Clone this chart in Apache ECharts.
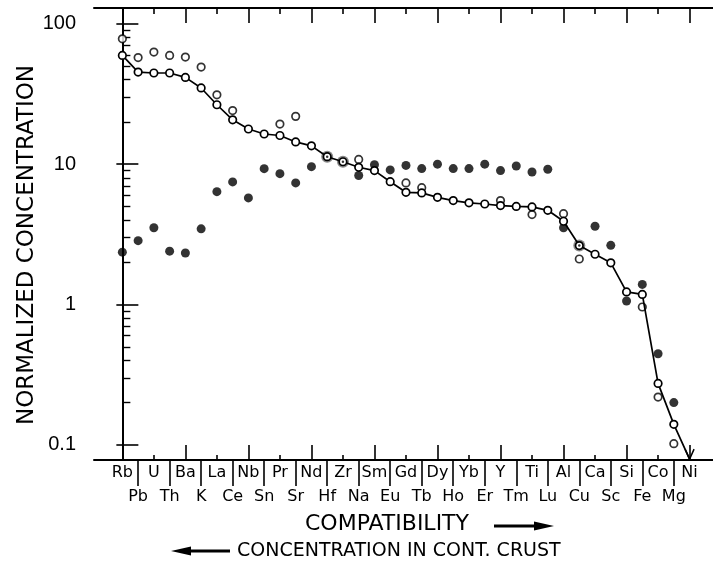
<!DOCTYPE html>
<html><head><meta charset="utf-8">
<script src="https://cdn.jsdelivr.net/npm/echarts@6/dist/echarts.min.js"></script>
<style>html,body{margin:0;padding:0;background:#fff}#c{width:713px;height:574px}</style>
</head><body><div id="c"></div>
<script>
// ---- data ----
const categories = ['Rb','Pb','U','Th','Ba','K','La','Ce','Nb','Sn','Pr','Sr','Nd','Hf','Zr','Na','Sm','Eu','Gd','Tb','Dy','Ho','Yb','Er','Y','Tm','Ti','Lu','Al','Cu','Ca','Sc','Si','Fe','Co','Mg','Ni'];
// connected open circles (last = Ni, arrow pointing below the axis)
const lineValues = [59.5,45.3,44.6,44.6,41.5,34.9,26.5,20.7,17.8,16.4,16.0,14.4,13.5,11.3,10.4,9.5,9.0,7.5,6.3,6.24,5.8,5.5,5.3,5.2,5.07,5.0,4.96,4.69,3.92,2.63,2.28,1.98,1.23,1.18,0.274,0.14,0.079];
// unconnected open circles
const openValues = [78.2,57.5,62.9,59.5,57.9,49.2,31.2,24.1,null,null,19.3,21.9,null,null,null,10.8,null,null,7.35,6.8,null,null,null,null,5.5,null,4.37,null,4.44,2.11,null,null,null,0.96,0.219,0.102,null];
// filled circles
const filledValues = [2.36,2.85,3.52,2.40,2.33,3.46,6.37,7.47,5.75,9.29,8.56,7.35,9.6,11.3,10.4,8.3,9.9,9.1,9.8,9.3,10.0,9.3,9.3,10.0,9.0,9.7,8.8,9.2,3.52,2.63,3.61,2.64,1.06,1.39,0.446,0.20,null];
const yTickValues = [0.1,1,10,100];
const yMinorTickValues = [0.2,0.3,0.4,0.5,0.6,0.7,0.8,0.9,2,3,4,5,6,7,8,9,20,30,40,50,60,70,80,90];
const xMajorTicks = [0,4,8,12,16,20,24,28,32,36];
const xMinorTicks = [2,6,10,14,18,22,26,30,34];
const xTopRow = [0,2,4,6,8,10,12,14,16,18,20,22,24,26,28,30,32,34,36];
const xBottomRow = [1,3,5,7,9,11,13,15,17,19,21,23,25,27,29,31,33,35];
const yTitle = 'NORMALIZED CONCENTRATION';
const xTitle1 = 'COMPATIBILITY';
const xTitle2 = 'CONCENTRATION IN CONT. CRUST';

// ---- chart ----
const X_MIN = -1.8, X_MAX = 37.55, Y_MIN = 0.078, Y_MAX = 129.6;
const FONT = "'DejaVu Sans', sans-serif";
const NUMFONT = "'Liberation Sans', 'DejaVu Sans', sans-serif";
const K = '#000';
const noSplit = {show:false};
function xAx(extra){
  return Object.assign({type:'value', min:X_MIN, max:X_MAX, gridIndex:0, splitLine:noSplit,
    axisLine:{show:false}, axisLabel:{show:false}}, extra);
}
function yAx(extra){
  return Object.assign({type:'log', logBase:10, min:Y_MIN, max:Y_MAX, gridIndex:0, splitLine:noSplit,
    axisLine:{show:false}, axisLabel:{show:false}}, extra);
}
const catFmt = v => categories[Math.round(v)] || '';
const xLabelStyle = {color:K, fontSize:16, fontFamily:FONT};

const coincident = filledValues.map((v,i)=> v!=null && v===lineValues[i]);

const chart = echarts.init(document.getElementById('c'), null, {renderer:'canvas'});
chart.setOption({
  animation:false,
  backgroundColor:'#fff',
  grid:{left:94, top:8, width:620, height:452, containLabel:false, outerBoundsMode:'none'},
  xAxis:[
    xAx({position:'bottom', axisLine:{show:true, lineStyle:{color:K, width:2}},
      axisTick:{show:true, inside:true, length:15, customValues:xMajorTicks, lineStyle:{color:K, width:1.6}},
      axisLabel:Object.assign({show:true, customValues:xTopRow, formatter:catFmt, margin:5}, xLabelStyle)}),
    xAx({position:'bottom', axisTick:{show:true, inside:true, length:5, customValues:xMinorTicks, lineStyle:{color:K, width:1.6}}}),
    xAx({position:'bottom', axisTick:{show:true, inside:false, length:26, customValues:xBottomRow, lineStyle:{color:K, width:1.6}},
      axisLabel:Object.assign({show:true, customValues:xBottomRow, formatter:catFmt, margin:29}, xLabelStyle)}),
    xAx({position:'top', axisLine:{show:true, lineStyle:{color:K, width:2}},
      axisTick:{show:true, inside:true, length:15, customValues:xMajorTicks, lineStyle:{color:K, width:1.6}}}),
    xAx({position:'top', axisTick:{show:true, inside:true, length:6, customValues:xMinorTicks, lineStyle:{color:K, width:1.6}}})
  ],
  yAxis:[
    yAx({position:'left', axisLine:{show:true, lineStyle:{color:K, width:2}},
      axisTick:{show:true, inside:true, length:16, customValues:yTickValues, lineStyle:{color:K, width:1.6}},
      axisLabel:{show:true, customValues:yTickValues, formatter:v=>String(+v.toPrecision(3)), margin:18,
        color:K, fontSize:20, fontFamily:NUMFONT}}),
    yAx({position:'left', axisTick:{show:true, inside:true, length:8, customValues:yMinorTickValues, lineStyle:{color:K, width:1.4}}}),
    yAx({position:'right', axisTick:{show:true, inside:true, length:6, customValues:yTickValues, lineStyle:{color:K, width:1.6}}})
  ],
  series:[
    {type:'scatter', name:'filled', xAxisIndex:0, yAxisIndex:0, z:2,
      data:filledValues.map((v,i)=> v==null?null:{value:[i,v],
        symbolSize: coincident[i]?12:9,
        itemStyle:{color: coincident[i]?'#6a6a6a':K}}).filter(d=>d),
      symbol:'circle', itemStyle:{color:K}},
    {type:'scatter', name:'open', xAxisIndex:0, yAxisIndex:0, z:3,
      data:openValues.map((v,i)=> v==null?null:[i,v]).filter(d=>d),
      symbol:'circle', symbolSize:7.5, itemStyle:{color:'#fff', borderColor:K, borderWidth:1.7}},
    {type:'line', name:'line', xAxisIndex:0, yAxisIndex:0, z:4,
      data:lineValues.map((v,i)=> i===lineValues.length-1 ?
        {value:[i,v], symbol:'path://M0,0L5,9L10,0', symbolSize:[9,10], symbolOffset:[0,'-50%'],
         itemStyle:{color:'none', borderColor:K, borderWidth:1.6}} : [i,v]),
      symbol:'circle', symbolSize:7.5, showSymbol:true, clip:false,
      lineStyle:{color:K, width:1.7},
      itemStyle:{color:'#fff', borderColor:K, borderWidth:1.7}},
    {type:'scatter', name:'dots', xAxisIndex:0, yAxisIndex:0, z:5,
      data:lineValues.map((v,i)=> coincident[i]?[i,v]:null).filter(d=>d),
      symbol:'circle', symbolSize:2.5, itemStyle:{color:K}}
  ],
  graphic:[
    {type:'text', x:27, y:245, rotation:Math.PI/2,
      style:{text:yTitle, font:"23px 'DejaVu Sans', sans-serif", fill:K,
        align:'center', verticalAlign:'middle', textAlign:'center', textVerticalAlign:'middle'}},
    {type:'text', x:387, y:524,
      style:{text:xTitle1, font:"22px 'DejaVu Sans', sans-serif", fill:K,
        align:'center', verticalAlign:'middle', textAlign:'center', textVerticalAlign:'middle'}},
    {type:'line', shape:{x1:494, y1:526, x2:540, y2:526}, style:{stroke:K, lineWidth:3}},
    {type:'polygon', shape:{points:[[534,521.5],[554,526],[534,530.5]]}, style:{fill:K}},
    {type:'text', x:237, y:551,
      style:{text:xTitle2, font:"19px 'DejaVu Sans', sans-serif", fill:K,
        align:'left', verticalAlign:'middle', textAlign:'left', textVerticalAlign:'middle'}},
    {type:'line', shape:{x1:186, y1:551, x2:230, y2:551}, style:{stroke:K, lineWidth:3}},
    {type:'polygon', shape:{points:[[191,546.5],[171,551],[191,555.5]]}, style:{fill:K}}
  ]
});
</script></body></html>
